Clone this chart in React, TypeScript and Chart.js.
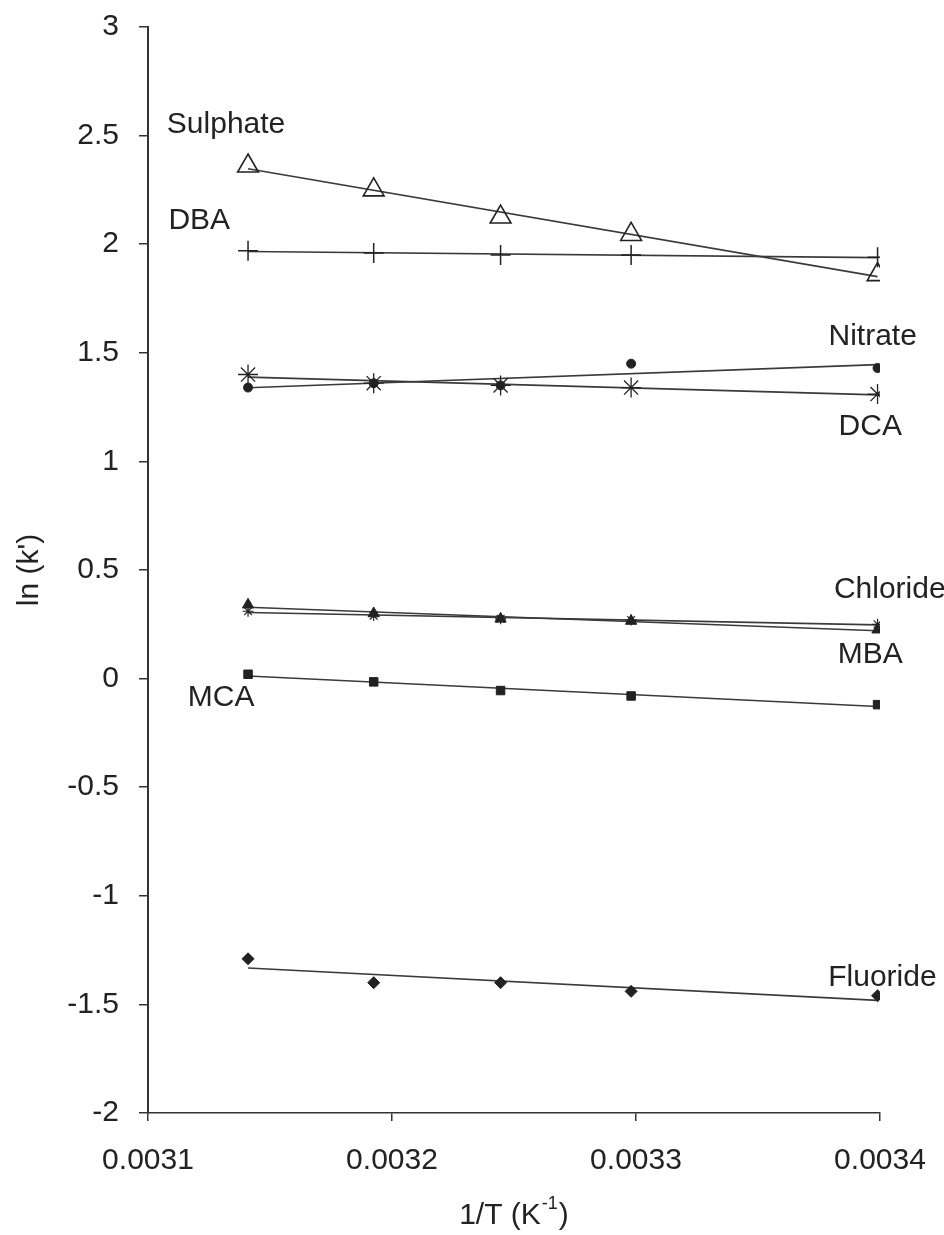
import React, { useEffect, useRef } from "react";
import { Chart, registerables } from "chart.js";

Chart.register(...registerables);

// 1/T (K^-1)
const invT = [0.003141, 0.0031925, 0.0032445, 0.003298, 0.003399];

// ln(k') values
const sulphate = [2.36, 2.25, 2.125, 2.045, 1.86];
const dba = [1.97, 1.96, 1.95, 1.95, 1.94];
const nitrate = [1.34, 1.36, 1.35, 1.45, 1.43];
const dca = [1.4, 1.36, 1.35, 1.34, 1.31];
const chloride = [0.31, 0.29, 0.275, 0.27, 0.25];
const mba = [0.34, 0.3, 0.275, 0.265, 0.225];
const mca = [0.02, -0.015, -0.055, -0.08, -0.12];
const fluoride = [-1.29, -1.4, -1.4, -1.44, -1.46];

// in-plot series labels (data coordinates)
const labelNames = ["Sulphate", "DBA", "Nitrate", "DCA", "Chloride", "MBA", "MCA", "Fluoride"];
const labelX = [0.003132, 0.003121, 0.003397, 0.003396, 0.003404, 0.003396, 0.00313, 0.003401];
const labelY = [2.55, 2.11, 1.575, 1.16, 0.41, 0.11, -0.09, -1.375];

const FONT = '"Liberation Sans", Arial, Helvetica, sans-serif';
const INK = "#222222";

const seriesDefs = [
  { name: "Sulphate", values: sulphate, style: "triangle", r: 12, filled: false, bw: 1.6 },
  { name: "DBA", values: dba, style: "cross", r: 10, filled: false, bw: 1.5 },
  { name: "Nitrate", values: nitrate, style: "circle", r: 4.5, filled: true, bw: 1 },
  { name: "DCA", values: dca, style: "star", r: 10, filled: false, bw: 1.3 },
  { name: "Chloride", values: chloride, style: "star", r: 5.5, filled: false, bw: 1.2 },
  { name: "MBA", values: mba, style: "triangle", r: 6.5, filled: true, bw: 1 },
  { name: "MCA", values: mca, style: "rect", r: 6, filled: true, bw: 1 },
  { name: "Fluoride", values: fluoride, style: "rectRot", r: 6, filled: true, bw: 1 },
];

function trend(xs: number[], ys: number[]) {
  const n = xs.length;
  const mx = xs.reduce((a, b) => a + b, 0) / n;
  const my = ys.reduce((a, b) => a + b, 0) / n;
  let sxy = 0;
  let sxx = 0;
  for (let i = 0; i < n; i++) {
    sxy += (xs[i] - mx) * (ys[i] - my);
    sxx += (xs[i] - mx) * (xs[i] - mx);
  }
  const b = sxy / sxx;
  const a = my - b * mx;
  return [
    { x: xs[0], y: a + b * xs[0] },
    { x: xs[n - 1], y: a + b * xs[n - 1] },
  ];
}

const textPlugin = {
  id: "textPlugin",
  afterDraw(chart: any) {
    const { ctx, scales, chartArea } = chart;
    const x = scales.x;
    const y = scales.y;
    ctx.save();
    ctx.fillStyle = INK;
    ctx.font = `30px ${FONT}`;
    ctx.textAlign = "center";
    ctx.textBaseline = "middle";
    labelNames.forEach((t, i) => {
      ctx.fillText(t, x.getPixelForValue(labelX[i]), y.getPixelForValue(labelY[i]));
    });
    // x-axis title with superscript
    const main1 = "1/T (K";
    const sup = "-1";
    const main2 = ")";
    ctx.font = `30px ${FONT}`;
    const w1 = ctx.measureText(main1).width;
    const w3 = ctx.measureText(main2).width;
    ctx.font = `18px ${FONT}`;
    const w2 = ctx.measureText(sup).width;
    const total = w1 + w2 + w3 + 2;
    const cx = (chartArea.left + chartArea.right) / 2;
    const ty = 1216;
    let sx = cx - total / 2;
    ctx.textAlign = "left";
    ctx.textBaseline = "middle";
    ctx.font = `30px ${FONT}`;
    ctx.fillText(main1, sx, ty);
    sx += w1 + 1;
    ctx.font = `18px ${FONT}`;
    ctx.fillText(sup, sx, ty - 12);
    sx += w2 + 1;
    ctx.font = `30px ${FONT}`;
    ctx.fillText(main2, sx, ty);
    ctx.restore();
  },
};

export default function App() {
  const ref = useRef<HTMLCanvasElement>(null);

  useEffect(() => {
    if (!ref.current) return;
    const pointSets = seriesDefs.map((s) => ({
      label: s.name,
      data: s.values.map((v, i) => ({ x: invT[i], y: v })),
      showLine: false,
      pointStyle: s.style,
      pointRadius: s.r,
      pointHoverRadius: s.r,
      pointBorderWidth: s.bw,
      pointBorderColor: INK,
      pointBackgroundColor: s.filled ? INK : "rgba(0,0,0,0)",
      order: 0,
    }));
    const lineSets = seriesDefs.map((s) => ({
      label: s.name + " fit",
      data: trend(invT, s.values),
      showLine: true,
      borderColor: "#3a3a3a",
      borderWidth: 1.6,
      pointRadius: 0,
      fill: false,
      order: 1,
    }));

    const chart = new Chart(ref.current, {
      type: "scatter",
      data: { datasets: [...pointSets, ...lineSets] as any },
      plugins: [textPlugin],
      options: {
        animation: false,
        responsive: true,
        maintainAspectRatio: false,
        layout: { padding: { top: 27, right: 64, left: 0, bottom: 0 } },
        plugins: {
          legend: { display: false },
          tooltip: { enabled: false },
        },
        scales: {
          x: {
            type: "linear",
            min: 0.0031,
            max: 0.0034,
            afterFit: (s: any) => {
              s.height = 122;
              s.paddingLeft = 0;
              s.paddingRight = 0;
            },
            afterBuildTicks: (s: any) => {
              s.ticks = [0.0031, 0.0032, 0.0033, 0.0034].map((v) => ({ value: v }));
            },
            ticks: {
              color: INK,
              font: { family: FONT, size: 30 },
              padding: 22,
              maxRotation: 0,
              callback: (v: any) => Number(v).toFixed(4),
            },
            grid: { drawOnChartArea: false, drawTicks: true, tickLength: 8, color: "#333", lineWidth: 1.5 },
            border: { color: "#333", width: 1.6 },
          },
          y: {
            type: "linear",
            min: -2,
            max: 3,
            afterFit: (s: any) => {
              s.width = 148;
              s.paddingTop = 0;
              s.paddingBottom = 0;
            },
            ticks: {
              stepSize: 0.5,
              color: INK,
              font: { family: FONT, size: 30 },
              padding: 20,
              callback: (v: any) => String(Number(v)),
            },
            title: {
              display: true,
              text: "ln (k')",
              color: INK,
              font: { family: FONT, size: 30 },
              padding: { top: 12, bottom: 0 },
            },
            grid: { drawOnChartArea: false, drawTicks: true, tickLength: 9, color: "#333", lineWidth: 1.5 },
            border: { color: "#333", width: 2 },
          },
        },
      } as any,
    });
    return () => chart.destroy();
  }, []);

  return (
    <div style={{ position: "absolute", left: 0, top: 0, width: 944, height: 1235, background: "#fff" }}>
      <canvas ref={ref} />
    </div>
  );
}
